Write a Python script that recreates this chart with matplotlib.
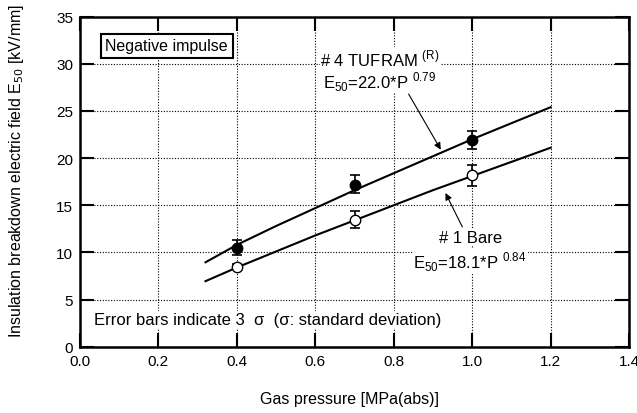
import matplotlib.pyplot as plt

plt.rcParams['font.family'] = ['Liberation Sans', 'DejaVu Sans']

# Dados
pressao = [0.4, 0.7, 1.0]
tufram_e50 = [10.5, 17.2, 21.95]
tufram_err_baixo = [0.75, 0.95, 1.0]
tufram_err_alto = [0.8, 1.05, 0.95]
bare_e50 = [8.5, 13.45, 18.2]
bare_err_baixo = [0.3, 0.9, 1.2]
bare_err_alto = [0.3, 0.9, 1.1]

# curvas de ajuste
p_ajuste = [0.32, 0.4, 0.5, 0.6, 0.7, 0.8, 0.9, 1.0, 1.1, 1.2]
tufram_ajuste = [8.95, 10.8, 12.8, 14.7, 16.6, 18.4, 20.2, 22.0, 23.7, 25.4]
bare_ajuste = [6.95, 8.4, 10.1, 11.8, 13.4, 15.0, 16.6, 18.1, 19.6, 21.1]

fig = plt.figure(figsize=(6.37, 4.14), dpi=100)
ax = fig.add_axes([80 / 637, 1 - 347.7 / 414, 549 / 637, 330 / 414])

ax.plot(p_ajuste, tufram_ajuste, color='black', linewidth=1.5, zorder=3)
ax.plot(p_ajuste, bare_ajuste, color='black', linewidth=1.5, zorder=3)

ax.errorbar(pressao, tufram_e50, yerr=[tufram_err_baixo, tufram_err_alto], fmt='o',
            color='black', markerfacecolor='black', markersize=7.5, capsize=3.5,
            elinewidth=1.2, capthick=1.2, zorder=4)
ax.errorbar(pressao, bare_e50, yerr=[bare_err_baixo, bare_err_alto], fmt='o',
            color='black', markerfacecolor='white', markersize=7.5, capsize=3.5,
            elinewidth=1.2, capthick=1.2, zorder=4)

ax.set_xlim(0, 1.4)
ax.set_ylim(0, 35)
ax.set_xticks([0.0, 0.2, 0.4, 0.6, 0.8, 1.0, 1.2, 1.4])
ax.set_xticklabels(['0.0', '0.2', '0.4', '0.6', '0.8', '1.0', '1.2', '1.4'])
ax.set_yticks([0, 5, 10, 15, 20, 25, 30, 35])
ax.tick_params(direction='in', length=10, width=1.5, top=True, right=True,
               labelsize=11, pad=5)
for s in ax.spines.values():
    s.set_linewidth(1.8)
ax.grid(True, color='black', linestyle=(0, (1, 1.5)), linewidth=0.8)

ax.set_xlabel('Gas pressure [MPa(abs)]', fontsize=11.5)
ax.xaxis.set_label_coords(0.49, -0.135)
ax.set_ylabel('Insulation breakdown electric field E$_{50}$ [kV/mm]', fontsize=11.5)
ax.yaxis.set_label_coords(-0.098, 0.535)

caixa = dict(boxstyle='square,pad=0.05', facecolor='white', edgecolor='none')

ax.text(0.065, 31.9, 'Negative impulse', fontsize=11.5, va='center', ha='left',
        bbox=dict(boxstyle='square,pad=0.3', facecolor='white', edgecolor='black', linewidth=1.5),
        zorder=5)

ax.text(0.765, 30.6, '# 4 TUFRAM $^{\\mathregular{(R)}}$', fontsize=12, ha='center', va='center',
        bbox=caixa, zorder=5)
ax.text(0.765, 28.2, 'E$_{\\mathregular{50}}$=22.0*P $^{\\mathregular{0.79}}$', fontsize=12,
        ha='center', va='center', bbox=caixa, zorder=5)
ax.annotate('', xy=(0.92, 20.9), xytext=(0.838, 26.8),
            arrowprops=dict(arrowstyle='-|>', color='black', linewidth=0.8, mutation_scale=10,
                            shrinkA=0, shrinkB=0))

ax.text(0.995, 11.6, '# 1 Bare', fontsize=12, ha='center', va='center',
        bbox=caixa, zorder=5)
ax.text(0.995, 9.1, 'E$_{\\mathregular{50}}$=18.1*P $^{\\mathregular{0.84}}$', fontsize=12,
        ha='center', va='center', bbox=caixa, zorder=5)
ax.annotate('', xy=(0.932, 16.3), xytext=(0.975, 12.7),
            arrowprops=dict(arrowstyle='-|>', color='black', linewidth=0.8, mutation_scale=10,
                            shrinkA=0, shrinkB=0))

ax.text(0.035, 2.9, 'Error bars indicate 3  σ  (σ: standard deviation)', fontsize=12,
        ha='left', va='center', bbox=caixa, zorder=5)

fig.savefig('out.png', dpi=100)
